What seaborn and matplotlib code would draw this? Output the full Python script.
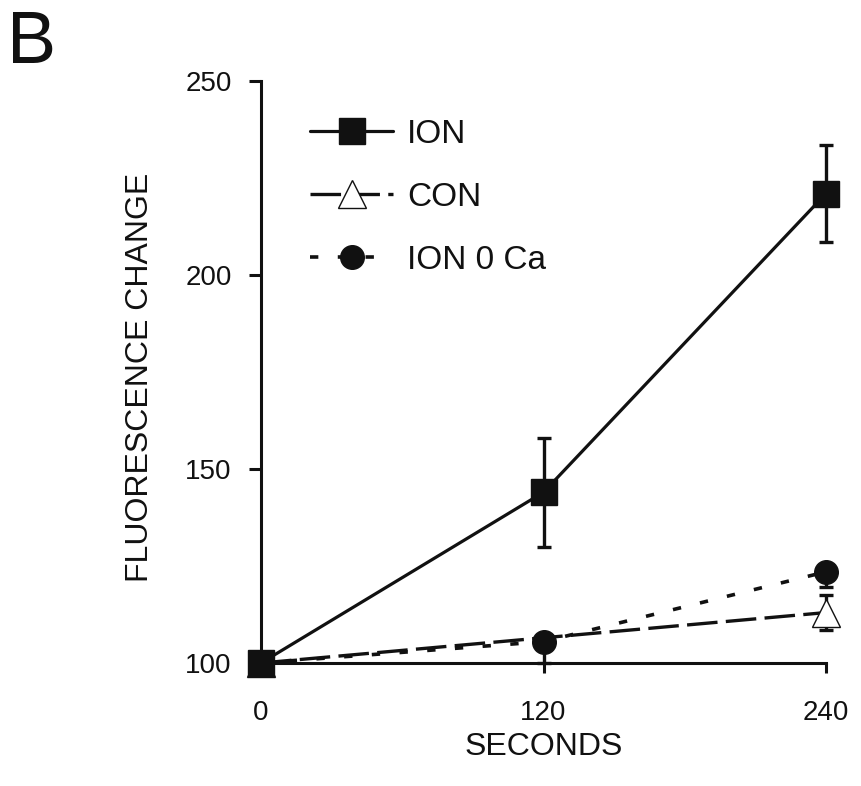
import matplotlib
matplotlib.use("Agg")
import matplotlib.pyplot as plt
import seaborn as sns

# Fluorescence change over time for the three conditions (mean with error bars)
seconds = [0, 120, 240]
ion = [100, 144, 221]
ion_err = [0, 14, 12.5]
con = [100, 106.5, 113]
con_err = [0, 0, 4.5]
ion0ca = [100, 105.5, 123.5]
ion0ca_err_low = [0, 5.5, 4]
ion0ca_err_high = [0, 0, 0]
series_names = ["ION", "CON", "ION 0 Ca"]
x_ticks = [0, 120, 240]
y_ticks = [100, 150, 200, 250]

sns.set_theme(style="ticks")
plt.rcParams["font.family"] = ["Liberation Sans", "DejaVu Sans"]
plt.rcParams["lines.scale_dashes"] = False
plt.rcParams["text.color"] = "#111111"

W, H = 862, 786
fig = plt.figure(figsize=(W / 100, H / 100), dpi=100)
ax = fig.add_axes([261 / W, 1 - 663 / H, 565 / W, 582 / H])

ink = "#111111"
err_kw = dict(fmt="none", ecolor=ink, elinewidth=2.4, capsize=5, capthick=2.4, clip_on=False)

# CON: long dashes, open triangles (the 120 s point sits under the ION 0 Ca marker)
ax.errorbar(seconds, con, yerr=con_err, zorder=2, **err_kw)
sns.lineplot(x=seconds, y=con, ax=ax, errorbar=None, color=ink, linewidth=2.4,
             linestyle=(0, (22, 6)), marker="^", markersize=20, markevery=[0, 2],
             markerfacecolor="white", markeredgecolor=ink, markeredgewidth=1.0,
             label=series_names[1], zorder=3)

# ION 0 Ca: short dashes, filled circles
ax.errorbar(seconds, ion0ca, yerr=[ion0ca_err_low, ion0ca_err_high], zorder=2, **err_kw)
sns.lineplot(x=seconds, y=ion0ca, ax=ax, errorbar=None, color=ink, linewidth=2.6,
             linestyle=(0, (6, 14)), marker="o", markersize=17,
             markerfacecolor=ink, markeredgecolor=ink, markeredgewidth=1.0,
             label=series_names[2], zorder=4)

# ION: solid line, filled squares
ax.errorbar(seconds, ion, yerr=ion_err, zorder=4.5, **err_kw)
sns.lineplot(x=seconds, y=ion, ax=ax, errorbar=None, color=ink, linewidth=2.3,
             linestyle="-", marker="s", markersize=19,
             markerfacecolor=ink, markeredgecolor=ink, markeredgewidth=1.0,
             label=series_names[0], zorder=5)

for ln in ax.lines:
    ln.set_clip_on(False)

ax.set_xlim(0, 240)
ax.set_ylim(100, 250)
ax.set_xticks(x_ticks)
ax.set_yticks(y_ticks)
ax.set_xticklabels([str(v) for v in x_ticks])
ax.set_yticklabels([str(v) for v in y_ticks])

sns.despine(ax=ax)
for side in ("left", "bottom"):
    ax.spines[side].set_linewidth(2.2)
    ax.spines[side].set_color(ink)
ax.tick_params(axis="y", direction="out", length=9, width=2.2, pad=12,
               labelsize=20, colors=ink)
ax.tick_params(axis="x", direction="out", length=7, width=2.2, pad=20,
               labelsize=20, colors=ink)

ax.set_xlabel("SECONDS", fontsize=23, color=ink)
ax.set_ylabel("FLUORESCENCE CHANGE", fontsize=23, color=ink)
ax.xaxis.set_label_coords(0.5, -0.118)
ax.yaxis.set_label_coords(-0.188, 0.49)

handles, labels = ax.get_legend_handles_labels()
order = [labels.index(n) for n in series_names]
leg = ax.legend([handles[i] for i in order], [labels[i] for i in order],
                loc="upper left", bbox_to_anchor=(310 / W, 1 - 119 / H),
                bbox_transform=fig.transFigure, frameon=False, fontsize=24,
                handlelength=2.5, handletextpad=0.42, labelspacing=0.96,
                borderpad=0, borderaxespad=0)
# one marker in the middle of each legend handle
for h in leg.legend_handles:
    h.set_markevery([1])

fig.text(7 / W, 1 - 63 / H, "B", fontsize=53, color=ink, va="baseline", ha="left")

fig.savefig("out.png", dpi=100)
